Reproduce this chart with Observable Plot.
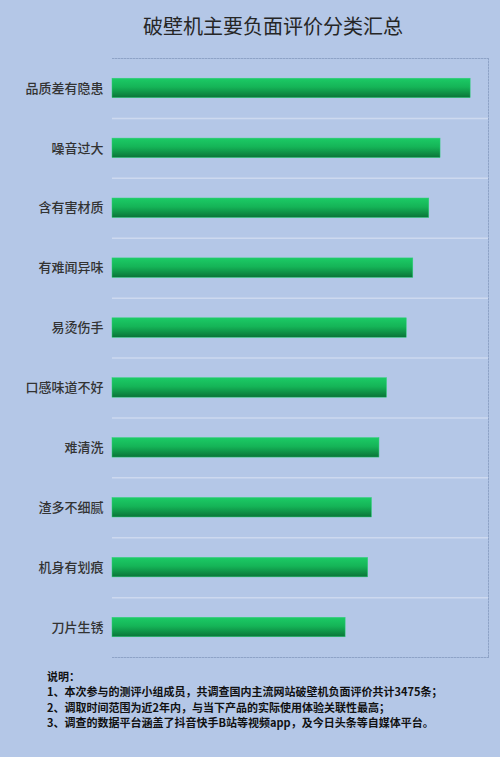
<!DOCTYPE html>
<html>
<head>
<meta charset="utf-8">
<script src="https://cdn.jsdelivr.net/npm/d3@7"></script>
<script src="https://cdn.jsdelivr.net/npm/@observablehq/plot@0.6"></script>
<style>
  html, body { margin: 0; padding: 0; background: #ffffff; }
  #wrap { position: relative; width: 500px; height: 757px; background: #b4c7e7; overflow: hidden;
          font-family: "Noto Sans CJK SC", "Noto Sans", sans-serif; }
  #title { position: absolute; left: 0; top: 11px; width: 546px; text-align: center;
           font-size: 20px; color: #262626; line-height: 30px; }
  #chart { position: absolute; left: 0; top: 0; }
  #note { position: absolute; left: 47px; top: 669px; font-size: 11px; font-weight: bold;
          color: #111; line-height: 15.3px; white-space: nowrap; }
</style>
</head>
<body>
<div id="wrap">
  <div id="chart"></div>
  <div id="title">破壁机主要负面评价分类汇总</div>
  <div id="note">说明：<br>1、本次参与的测评小组成员，共调查国内主流网站破壁机负面评价共计3475条；<br>2、调取时间范围为近2年内，与当下产品的实际使用体验关联性最高；<br>3、调查的数据平台涵盖了抖音快手B站等视频app，及今日头条等自媒体平台。</div>
</div>
<script>
const categories = ["品质差有隐患", "噪音过大", "含有害材质", "有难闻异味", "易烫伤手",
                    "口感味道不好", "难清洗", "渣多不细腻", "机身有划痕", "刀片生锈"];
const values = [381, 349, 337, 320, 313, 292, 284, 276, 272, 248];

const data = categories.map((c, i) => ({category: c, value: values[i]}));

const plot = Plot.plot({
  width: 500,
  height: 660,
  marginLeft: 112,
  marginRight: 12,
  marginTop: 58,
  marginBottom: 3,
  style: {background: "transparent", fontFamily: "'Noto Sans CJK SC', sans-serif", fontSize: "13px", color: "#333"},
  x: {domain: [0, 400], axis: null},
  y: {domain: categories, paddingInner: 0.675, paddingOuter: 0.3375, round: false, label: null},
  marks: [
    Plot.ruleY(categories.slice(0, -1), {y: d => d, dy: 30, stroke: "#cdd9ef", strokeWidth: 1.5}),
    Plot.frame({anchor: "top", stroke: "#8ea3c7", strokeDasharray: "1.5,1.5", strokeWidth: 1}),
    Plot.frame({anchor: "bottom", stroke: "#8ea3c7", strokeDasharray: "1.5,1.5", strokeWidth: 1}),
    Plot.frame({anchor: "right", stroke: "#8ea3c7", strokeDasharray: "1.5,1.5", strokeWidth: 1}),
    Plot.barX(data, {x: "value", y: "category", fill: "url(#barGrad)", stroke: "#2ed07a", strokeWidth: 0.5}),
    Plot.axisY({tickSize: 0, tickPadding: 9, fill: "#333", fontSize: 13, fontWeight: 500})
  ]
});

const svg = d3.select(plot);
const defs = svg.insert("defs", ":first-child");
const grad = defs.append("linearGradient").attr("id", "barGrad")
  .attr("x1", 0).attr("y1", 0).attr("x2", 0).attr("y2", 1);
grad.append("stop").attr("offset", "0%").attr("stop-color", "#1ccb66");
grad.append("stop").attr("offset", "45%").attr("stop-color", "#15b457");
grad.append("stop").attr("offset", "100%").attr("stop-color", "#0a7438");

document.getElementById("chart").appendChild(plot);
</script>
</body>
</html>
